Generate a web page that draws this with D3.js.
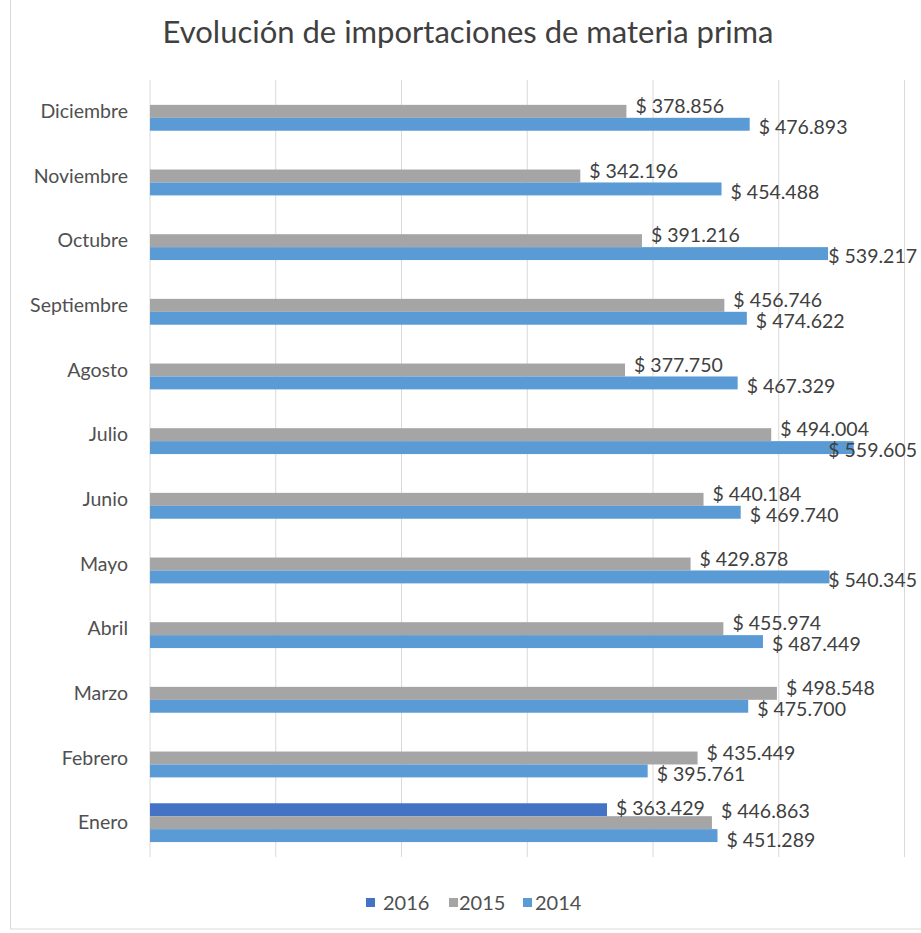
<!DOCTYPE html>
<html>
<head>
<meta charset="utf-8">
<script src="https://cdn.jsdelivr.net/npm/d3@7"></script>
<style>
  html, body { margin: 0; padding: 0; background: #ffffff; }
  svg { display: block; }
  text { font-family: Lato, "Open Sans", sans-serif; }
</style>
</head>
<body>
<svg id="chart" width="921" height="933"></svg>
<script>
// ---- data ----
const title = "Evolución de importaciones de materia prima";
const months = ["Enero", "Febrero", "Marzo", "Abril", "Mayo", "Junio", "Julio",
                "Agosto", "Septiembre", "Octubre", "Noviembre", "Diciembre"];
const seriesNames = ["2016", "2015", "2014"];
const values2016 = [363429, null, null, null, null, null, null, null, null, null, null, null];
const values2015 = [446863, 435449, 498548, 455974, 429878, 440184, 494004, 377750, 456746, 391216, 342196, 378856];
const values2014 = [451289, 395761, 475700, 487449, 540345, 469740, 559605, 467329, 474622, 539217, 454488, 476893];
const gridTicks = [0, 100000, 200000, 300000, 400000, 500000, 600000];

const seriesValues = { "2016": values2016, "2015": values2015, "2014": values2014 };
const colors = { "2016": "#4472C4", "2015": "#A5A5A5", "2014": "#5B9BD5" };

const locale = d3.formatLocale({ decimal: ",", thousands: ".", grouping: [3], currency: ["$ ", ""] });
const fmt = locale.format("$,d");

const svg = d3.select("#chart");

// chart border
svg.append("rect")
  .attr("x", 10.5).attr("y", -2).attr("width", 930).attr("height", 931)
  .attr("fill", "#ffffff").attr("stroke", "#d9d9d9").attr("stroke-width", 1);

// title
svg.append("text")
  .attr("x", 468).attr("y", 43)
  .attr("text-anchor", "middle")
  .attr("font-size", 31)
  .attr("fill", "#404040")
  .text(title);

// scales
const x = d3.scaleLinear().domain([0, 600000]).range([150, 904.5]);
const yOrder = months.slice().reverse();
const y0 = d3.scaleBand().domain(yOrder).range([79, 855]).paddingInner(0.4).paddingOuter(0.2);
const y1 = d3.scaleBand().domain(seriesNames).range([0, y0.bandwidth()]);

// gridlines
svg.append("g").selectAll("line").data(gridTicks).join("line")
  .attr("x1", d => x(d)).attr("x2", d => x(d))
  .attr("y1", 80).attr("y2", 857)
  .attr("stroke", "#d9d9d9").attr("stroke-width", 1);

// category labels
svg.append("g").selectAll("text").data(months).join("text")
  .attr("x", 128)
  .attr("y", d => y0(d) + y0.bandwidth() / 2)
  .attr("dy", "0.35em")
  .attr("text-anchor", "end")
  .attr("font-size", 19.5)
  .attr("fill", "#505050")
  .text(d => d);

// bars
const barData = [];
months.forEach((m, i) => {
  seriesNames.forEach(s => {
    const v = seriesValues[s][i];
    if (v != null) barData.push({ month: m, series: s, value: v, has2016: values2016[i] != null });
  });
});

svg.append("g").selectAll("rect").data(barData).join("rect")
  .attr("x", x(0))
  .attr("y", d => y0(d.month) + y1(d.series))
  .attr("width", d => x(d.value) - x(0))
  .attr("height", y1.bandwidth())
  .attr("fill", d => colors[d.series]);

// data labels
const rightLimit = 917;
function labelShift(d) {
  if (d.series === "2016") return -2;
  if (d.series === "2015") return d.has2016 ? -11 : -5;
  return d.has2016 ? 5 : 3;
}
const labels = svg.append("g").selectAll("text").data(barData).join("text")
  .attr("y", d => y0(d.month) + y1(d.series) + y1.bandwidth() / 2 + labelShift(d))
  .attr("dy", "0.35em")
  .attr("font-size", 19.5)
  .attr("fill", "#404040")
  .text(d => fmt(d.value));
labels.each(function(d) {
  const w = this.getComputedTextLength();
  let lx = x(d.value) + 9;
  if (lx + w > rightLimit) lx = rightLimit - w;
  d3.select(this).attr("x", lx);
});

// legend
const legendItems = [
  { name: "2016", sx: 366, tx: 383 },
  { name: "2015", sx: 449, tx: 459 },
  { name: "2014", sx: 523, tx: 535 }
];
const lg = svg.append("g");
lg.selectAll("rect").data(legendItems).join("rect")
  .attr("x", d => d.sx).attr("y", 898).attr("width", 9).attr("height", 9)
  .attr("fill", d => colors[d.name]);
lg.selectAll("text").data(legendItems).join("text")
  .attr("x", d => d.tx).attr("y", 903)
  .attr("dy", "0.35em")
  .attr("font-size", 20)
  .attr("fill", "#505050")
  .text(d => d.name);
</script>
</body>
</html>
